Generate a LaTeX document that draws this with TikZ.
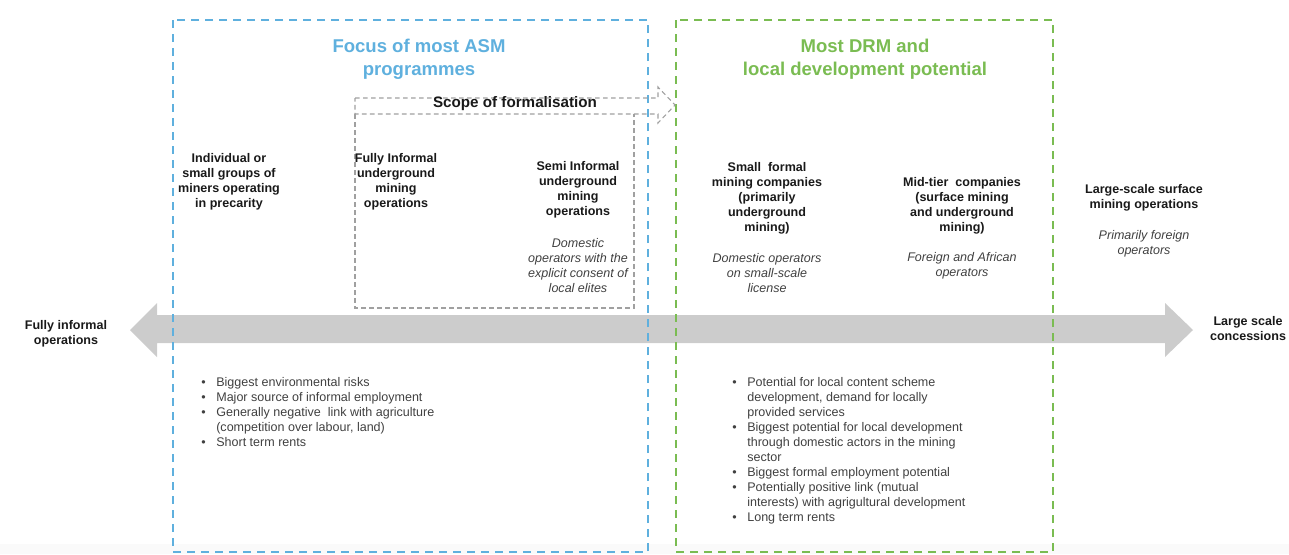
\documentclass[tikz,border=0pt]{standalone}
\usepackage{fontspec}
\setmainfont{Liberation Sans}
\usepackage{tikz}
\usetikzlibrary{calc}

\definecolor{asmblue}{RGB}{95,176,222}
\definecolor{drmgreen}{RGB}{122,188,82}
\definecolor{scopegrey}{RGB}{160,160,160}
\definecolor{bandgrey}{RGB}{204,204,204}
\definecolor{labelblack}{RGB}{25,25,25}
\definecolor{notegrey}{RGB}{64,64,64}

\begin{document}
\begin{tikzpicture}[x=0.75pt,y=-0.75pt,
  every node/.style={inner sep=0pt,font=\fontsize{9.4}{11.25}\selectfont},
  zone/.style={line width=1.3pt,dash pattern=on 6pt off 4.5pt},
  scopeline/.style={scopegrey,line width=0.8pt,dash pattern=on 3.5pt off 2.5pt},
  title/.style={font=\bfseries\fontsize{13.9}{17.25}\selectfont,align=center},
  actor/.style={font=\bfseries\fontsize{9.4}{11.25}\selectfont,align=center,text=labelblack},
  note/.style={font=\itshape\fontsize{9.4}{11.25}\selectfont,align=center,text=notegrey},
  bullets/.style={anchor=west,text=notegrey}]

\useasboundingbox (0,0) rectangle (1289,554);
\fill[gray!4] (0,544) rectangle (1289,554);

% the informal -> formal axis
\coordinate (lefttip) at (130,330);
\coordinate (righttip) at (1193,330);
\fill[bandgrey] (lefttip) -- ++(27,-27) -- ++(0,12) -- ($(righttip)+(-28,-15)$) -- ++(0,-12) -- (righttip) -- ++(-28,27) -- ++(0,-14) -- ($(lefttip)+(27,13)$) -- ++(0,14) -- cycle;

\draw[asmblue,zone] (173,20) rectangle (648,552);
\draw[drmgreen,zone] (676,20) rectangle (1053,552);

% scope of formalisation
\draw[scopeline] (355,98) -- (658,98) -- (658,87) -- (675,105) -- (658,123) -- (658,114) -- (355,114) -- cycle;
\draw[scopeline] (355,114) -- (355,308) -- (634,308) -- (634,114);

\node[title,text=asmblue] (asmtitle) at (419,59.5) {Focus of most ASM\\programmes};
\node[title,text=drmgreen] (drmtitle) at (865,59) {Most DRM and\\local development potential};
\node[font=\bfseries\fontsize{11.4}{13}\selectfont,text=labelblack] (scope) at (515,104) {Scope of formalisation};

\node[actor] (precarity) at (229,181.5) {Individual or\\small groups of\\miners operating\\in precarity};
\node[actor] (fullyinf) at (396,182) {Fully Informal\\underground\\mining\\operations};
\node[actor] (semiinf) at (578,190) {Semi Informal\\underground\\mining\\operations};
\node[note] (semiops) at (578,266) {Domestic\\operators with the\\explicit consent of\\local elites};
\node[actor] (smallco) at (767,198) {Small\ \ formal\\mining companies\\(primarily\\underground\\mining)};
\node[note] (smallops) at (767,273) {Domestic operators\\on small-scale\\license};
\node[actor] (midtier) at (962,205.5) {Mid-tier\ \ companies\\(surface mining\\and underground\\mining)};
\node[note] (midops) at (962,266) {Foreign and African\\operators};
\node[actor] (largesurf) at (1144,198) {Large-scale surface\\mining operations};
\node[note] (largeops) at (1144,243.5) {Primarily foreign\\operators};

\node[actor] (leftend) at (66,334) {Fully informal\\operations};
\node[actor] (rightend) at (1248,329) {Large scale\\concessions};

\node[bullets] (asmlist) at (201,413) {\begin{tabular}{@{}l@{\hspace{8pt}}l@{}}
\textbullet & Biggest environmental risks\\
\textbullet & Major source of informal employment\\
\textbullet & Generally negative\ \ link with agriculture\\
 & (competition over labour, land)\\
\textbullet & Short term rents
\end{tabular}};
\node[bullets] (drmlist) at (732,451) {\begin{tabular}{@{}l@{\hspace{8pt}}l@{}}
\textbullet & Potential for local content scheme\\
 & development, demand for locally\\
 & provided services\\
\textbullet & Biggest potential for local development\\
 & through domestic actors in the mining\\
 & sector\\
\textbullet & Biggest formal employment potential\\
\textbullet & Potentially positive link (mutual\\
 & interests) with agrigultural development\\
\textbullet & Long term rents
\end{tabular}};

\end{tikzpicture}
\end{document}
